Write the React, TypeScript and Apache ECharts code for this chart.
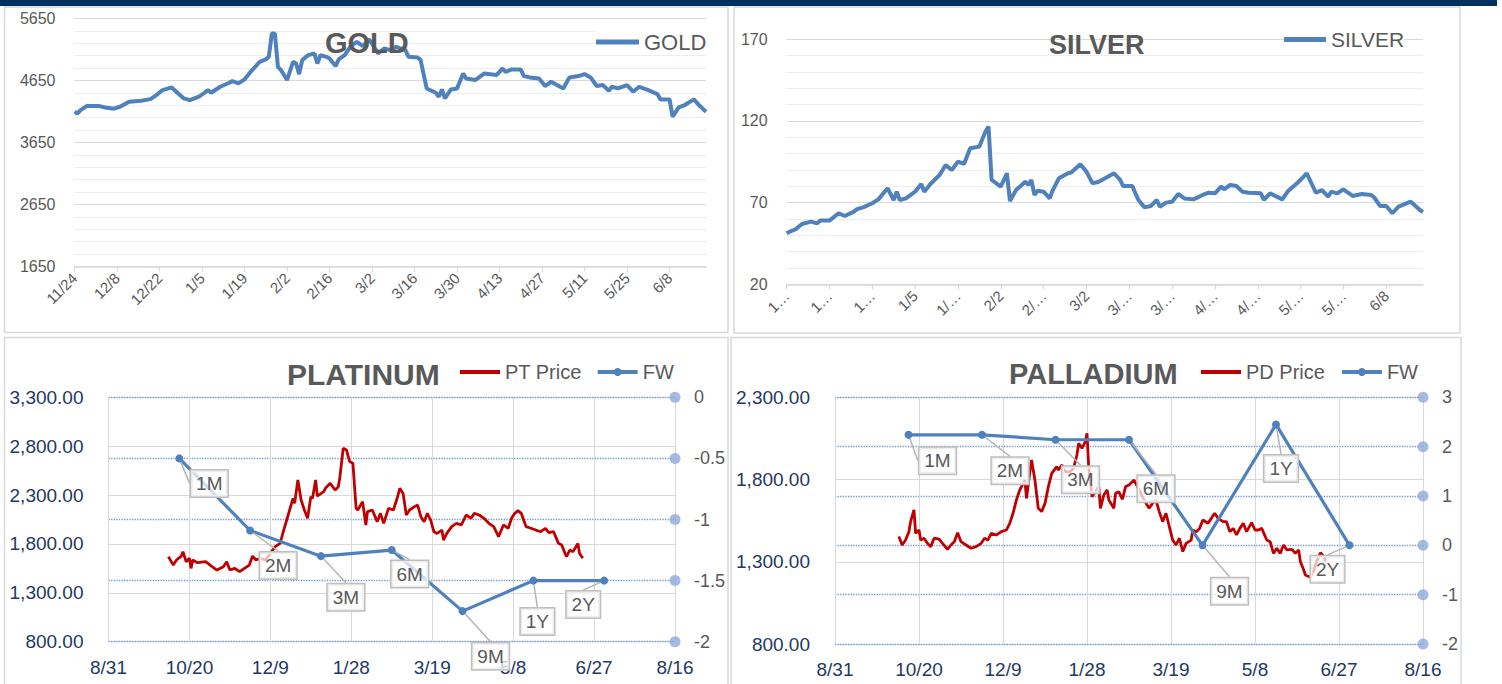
import React, { useEffect, useRef } from 'react';
import * as echarts from 'echarts';

// ---------------- DATA ----------------
const goldDates = ["11/24","11/25","11/26","11/28","12/2","12/4","12/7","12/9","12/12","12/16","12/19","12/21","12/23","12/26","12/30","1/1","1/4","1/7","1/8","1/11","1/14","1/15","1/17","1/19","1/21","1/24","1/26","1/27","1/28","1/29","1/30","1/31","2/2","2/4","2/5","2/6","2/7","2/9","2/11","2/12","2/13","2/15","2/16","2/18","2/19","2/21","2/23","2/25","2/27","3/1","3/2","3/4","3/6","3/8","3/10","3/13","3/14","3/17","3/18","3/20","3/23","3/24","3/25","3/26","3/28","3/30","4/1","4/2","4/5","4/8","4/12","4/14","4/15","4/17","4/20","4/21","4/23","4/26","4/28","4/30","5/4","5/6","5/9","5/11","5/13","5/15","5/17","5/19","5/20","5/22","5/25","5/27","5/29","6/1","6/4","6/5","6/8","6/9","6/11","6/13","6/16","6/18","6/20"];
const goldValues = [4146,4120,4173,4238,4238,4216,4195,4227,4307,4324,4350,4415,4495,4538,4361,4334,4388,4495,4452,4549,4614,4640,4603,4667,4790,4952,4989,5032,5408,5408,4871,4818,4657,4952,4925,4753,4979,5060,5086,4925,5060,5032,5006,4882,4989,5060,5204,5274,5204,5312,5247,5086,5167,5140,5194,5140,5032,5022,4979,4522,4452,4388,4506,4361,4506,4522,4764,4683,4657,4764,4737,4844,4790,4828,4828,4721,4700,4683,4560,4630,4522,4700,4721,4753,4700,4560,4576,4485,4549,4522,4576,4469,4549,4495,4431,4345,4345,4066,4216,4254,4345,4238,4146];

const silverDates = ["11/24","11/25","11/27","11/29","12/2","12/4","12/5","12/8","12/11","12/13","12/16","12/17","12/19","12/22","12/24","12/27","12/29","12/30","12/31","1/2","1/5","1/7","1/8","1/10","1/13","1/15","1/17","1/19","1/21","1/23","1/26","1/28","1/29","1/30","2/2","2/4","2/5","2/7","2/10","2/11","2/12","2/13","2/14","2/16","2/18","2/19","2/21","2/24","2/25","2/28","3/2","3/4","3/6","3/9","3/11","3/13","3/14","3/17","3/18","3/19","3/21","3/23","3/25","3/26","3/28","3/30","4/1","4/3","4/6","4/9","4/11","4/13","4/15","4/16","4/18","4/20","4/22","4/24","4/28","4/29","5/1","5/5","5/7","5/10","5/12","5/13","5/14","5/16","5/18","5/20","5/21","5/23","5/25","5/26","5/28","5/31","6/3","6/4","6/6","6/8","6/10","6/12","6/16","6/19","6/20"];
const silverValues = [51.2,52.2,53.7,56.9,58.4,57.3,59,59,63.5,61.8,64.5,66,67.1,69.6,72,78.8,71.6,76.7,71.6,72.6,76.7,81.4,76.7,81.4,86.9,93,90,95.1,93.7,103.3,104.3,113.5,116.5,83.9,79.8,88,71,77.7,82.8,80.8,83.9,74.7,77.3,76.7,72.6,77.7,84.9,88,88.4,93.5,89,81.8,82.8,85.9,88,83.9,80.2,80.2,75.7,71.6,67.1,67.9,71.6,67.5,70,70.6,75.3,72.6,72,74.7,76.1,75.7,79.8,78.2,80.8,80.2,76.7,76.1,75.7,71.6,75.7,72,77.3,82.2,85.9,88,83.9,76.1,77.7,73.7,76.7,75.7,78.2,76.7,74.1,75.3,74.7,73.3,67.9,67.9,63.5,67.5,70.6,65.5,64.3];

const ptDates = ["10/7","10/10","10/12","10/15","10/16","10/18","10/20","10/21","10/22","10/25","10/30","11/3","11/6","11/10","11/12","11/14","11/17","11/20","11/23","11/26","11/28","11/30","12/3","12/6","12/9","12/12","12/15","12/17","12/20","12/23","12/24","12/26","12/28","12/30","1/1","1/3","1/4","1/6","1/7","1/11","1/12","1/15","1/18","1/20","1/21","1/23","1/25","1/27","1/29","1/31","2/1","2/4","2/6","2/7","2/10","2/13","2/15","2/17","2/20","2/23","2/25","2/27","3/1","3/3","3/5","3/8","3/10","3/12","3/14","3/16","3/18","3/20","3/22","3/25","3/26","3/28","3/31","4/3","4/6","4/9","4/12","4/14","4/17","4/20","4/23","4/26","4/29","5/2","5/5","5/7","5/9","5/11","5/13","5/16","5/19","5/22","5/25","5/28","5/30","6/2","6/5","6/7","6/9","6/10","6/12","6/14","6/17","6/18","6/20"];
const ptValues = [1670,1584,1636,1676,1721,1618,1653,1550,1636,1608,1618,1567,1533,1567,1618,1533,1550,1516,1550,1584,1676,1636,1653,1636,1704,1772,1806,1925,2096,2266,2215,2454,2249,2147,2062,2283,2266,2454,2290,2335,2369,2420,2352,2386,2488,2778,2761,2642,2625,2164,2147,2232,1994,2130,2147,2028,2113,2011,2164,2147,2249,2369,2317,2096,2147,2181,2198,2079,2028,2113,2045,1925,1908,1942,1840,1908,1977,2011,1994,2096,2062,2113,2096,2062,2011,1977,1874,1994,1960,2062,2113,2140,2113,1977,1960,1942,1925,1960,1915,1925,1806,1789,1704,1670,1738,1721,1806,1704,1653];

const pdDates = ["10/8","10/10","10/12","10/14","10/15","10/17","10/18","10/20","10/21","10/23","10/25","10/27","10/29","11/1","11/3","11/6","11/8","11/10","11/12","11/14","11/17","11/20","11/23","11/26","11/28","11/30","12/2","12/5","12/8","12/11","12/13","12/15","12/17","12/19","12/22","12/23","12/25","12/26","12/28","12/30","1/1","1/3","1/5","1/7","1/10","1/11","1/13","1/15","1/18","1/20","1/22","1/23","1/25","1/27","1/28","1/29","1/31","2/2","2/4","2/5","2/7","2/9","2/10","2/13","2/14","2/16","2/18","2/20","2/22","2/25","2/27","3/1","3/3","3/6","3/8","3/10","3/12","3/14","3/16","3/18","3/20","3/22","3/24","3/26","3/28","3/31","4/1","4/3","4/5","4/7","4/10","4/12","4/14","4/16","4/19","4/21","4/23","4/25","4/27","4/29","5/1","5/3","5/6","5/8","5/10","5/12","5/15","5/17","5/19","5/21","5/23","5/25","5/27","5/30","6/1","6/3","6/4","6/6","6/7","6/10","6/12","6/14","6/16","6/18","6/19"];
const pdValues = [1453,1402,1432,1483,1544,1615,1473,1493,1432,1443,1412,1392,1443,1437,1412,1376,1402,1422,1477,1422,1402,1382,1392,1412,1443,1432,1473,1463,1483,1493,1534,1595,1676,1737,1797,1686,1848,1919,1797,1625,1605,1655,1757,1838,1878,1858,1889,1848,1848,1868,1949,2020,1990,2030,2081,1878,1696,1726,1757,1625,1706,1737,1676,1625,1716,1726,1680,1757,1767,1797,1757,1716,1676,1625,1655,1676,1605,1544,1595,1514,1432,1402,1443,1362,1412,1432,1493,1483,1503,1554,1534,1564,1595,1564,1544,1544,1483,1503,1463,1503,1534,1483,1538,1493,1493,1503,1432,1422,1351,1382,1351,1402,1372,1376,1351,1372,1301,1250,1220,1206,1250,1311,1355,1331,1301];

const tenors = ["1M", "2M", "3M", "6M", "9M", "1Y", "2Y"];
const ptFw = [-0.5, -1.09, -1.3, -1.25, -1.75, -1.5, -1.5];
const pdFw = [2.24, 2.24, 2.14, 2.14, 0, 2.45, 0];

// axis ticks / ranges
const goldYTicks = [1650, 2650, 3650, 4650, 5650];
const silverYTicks = [20, 70, 120, 170];
const spotXStart = "2025-11-24";
const spotXEnd = "2026-06-20";
const spotXStep = 14;
const fwXStart = "2025-08-31";
const fwXEnd = "2026-08-16";
const fwXStep = 50;
const ptLeftTicks = [800, 1300, 1800, 2300, 2800, 3300];
const ptRightTicks = [-2, -1.5, -1, -0.5, 0];
const pdLeftTicks = [800, 1300, 1800, 2300];
const pdRightTicks = [-2, -1, 0, 1, 2, 3];

// label placement offsets (styling)
const ptLabelOffsets = [[30, 25], [28, 35], [25, 41], [18, 24], [28, 45], [4, 41], [-21, 24]];
const pdLabelOffsets = [[29, 26], [28, 36], [25, 40], [27, 49], [27, 46], [5, 44], [-22, 24]];

// ---------------- HELPERS ----------------
const FONT = "'Liberation Sans', Arial, sans-serif";
const GRAY = '#595959';
const NAVY = '#1F3864';
const isoDay = (iso: string) => {
  const [y, m, d] = iso.split('-').map(Number);
  return Math.round(Date.UTC(y, m - 1, d) / 86400000);
};
// data dates are M/D in the Sep-2025 .. Aug-2026 window
const dayNum = (md: string) => {
  const [m, d] = md.split('/').map(Number);
  return Math.round(Date.UTC(m >= 9 ? 2025 : 2026, m - 1, d) / 86400000);
};
const mdOf = (n: number) => {
  const dt = new Date(n * 86400000);
  return dt.getUTCMonth() + 1 + '/' + dt.getUTCDate();
};
const truncLabel = (s: string) =>
  s.length <= 3 ? s : (s[1] === '/' ? s.slice(0, 2) : s.slice(0, 1)) + '…';

const spotOrigin = isoDay(spotXStart);
const spotMax = isoDay(spotXEnd) - spotOrigin;
const spotTicks: number[] = [];
for (let v = 0; v <= spotMax - spotXStep + 2; v += spotXStep) spotTicks.push(v);
const fwOrigin = isoDay(fwXStart);
const fwMax = isoDay(fwXEnd) - fwOrigin;

const toSeries = (dates: string[], vals: number[], origin: number) =>
  dates.map((d, i) => [dayNum(d) - origin, vals[i]]);

const gridLines = (ticks: number[]) => {
  const out: any[] = [];
  for (let i = 0; i < ticks.length - 1; i++) {
    const step = (ticks[i + 1] - ticks[i]) / 5;
    for (let k = 1; k < 5; k++)
      out.push({ yAxis: ticks[i] + step * k, lineStyle: { color: '#EDEDED', width: 1, type: 'solid' } });
  }
  ticks.forEach((t) => out.push({ yAxis: t, lineStyle: { color: '#D9D9D9', width: 1.2, type: 'solid' } }));
  return out;
};

const gridSeries = (idx: number, ticks: number[]) => ({
  type: 'line',
  name: '_grid' + idx,
  xAxisIndex: idx,
  yAxisIndex: idx,
  data: [],
  silent: true,
  z: 1,
  markLine: {
    z: 1,
    silent: true,
    symbol: ['none', 'none'],
    label: { show: false },
    animation: false,
    data: gridLines(ticks),
  },
});

const fmtThousands = (v: number) =>
  v.toLocaleString('en-US', { minimumFractionDigits: 2, maximumFractionDigits: 2 });

const fwSeries = (name: string, xi: number, yi: number, vals: number[], offsets: number[][]) => ({
  type: 'line',
  name,
  xAxisIndex: xi,
  yAxisIndex: yi,
  data: vals.map((v, i) => [i, v]),
  z: 5,
  symbol: 'circle',
  symbolSize: 8,
  color: '#4F81BD',
  lineStyle: { color: '#4F81BD', width: 3.2 },
  itemStyle: { color: '#4F81BD' },
  label: {
    show: true,
    position: 'inside',
    formatter: (p: any) => tenors[p.dataIndex],
    fontFamily: FONT,
    fontSize: 19,
    color: GRAY,
    backgroundColor: 'rgba(255,255,255,0.72)',
    borderColor: '#BFBFBF',
    borderWidth: 1.5,
    padding: [4, 5, 3, 5],
  },
  labelLine: { show: true, lineStyle: { color: '#B5B5B5', width: 1.5 } },
  labelLayout: (p: any) => {
    const o = offsets[p.dataIndex];
    return {
      x: p.rect.x + p.rect.width / 2 + o[0],
      y: p.rect.y + p.rect.height / 2 + o[1],
      align: 'center',
      verticalAlign: 'middle',
    };
  },
});

const dotSeries = (xi: number, yi: number, ticks: number[]) => ({
  type: 'scatter',
  name: '_dots' + yi,
  xAxisIndex: xi,
  yAxisIndex: yi,
  data: ticks.map((t) => [fwMax, t]),
  symbolSize: 11,
  clip: false,
  silent: true,
  z: 4,
  itemStyle: { color: '#8EAADB' },
});

const barIcon = (w: number, h: number) => `path://M0,0H${w}V${h}H0Z`;

function buildOption(): any {
  const spotXAxis = (gi: number, silver: boolean) => ({
    type: 'value',
    gridIndex: gi,
    min: 0,
    max: spotMax,
    interval: spotXStep,
    axisLine: { show: true, lineStyle: { color: '#D9D9D9', width: 1.5 } },
    axisTick: { show: true, length: 5, customValues: spotTicks, lineStyle: { color: '#D9D9D9', width: 1.2 } },
    axisLabel: {
      customValues: spotTicks,
      rotate: 45,
      margin: 9,
      fontFamily: FONT,
      fontSize: 15,
      color: GRAY,
      formatter: (v: number) => (silver ? truncLabel(mdOf(spotOrigin + v)) : mdOf(spotOrigin + v)),
    },
    splitLine: { show: false },
  });
  const spotYAxis = (gi: number, ticks: number[]) => ({
    type: 'value',
    gridIndex: gi,
    min: ticks[0],
    max: ticks[ticks.length - 1],
    axisLine: { show: false },
    axisTick: { show: false },
    splitLine: { show: false },
    axisLabel: {
      customValues: ticks,
      fontFamily: FONT,
      fontSize: 16,
      color: GRAY,
      margin: 19,
      formatter: (v: number) => String(v),
    },
  });
  const fwDateAxis = (gi: number) => ({
    type: 'value',
    gridIndex: gi,
    min: 0,
    max: fwMax,
    interval: fwXStep,
    axisLine: { show: false },
    axisTick: { show: false },
    splitLine: { show: true, lineStyle: { color: '#D9D9D9', width: 1 } },
    axisLabel: {
      fontFamily: FONT,
      fontSize: 19,
      color: NAVY,
      margin: 16,
      formatter: (v: number) => mdOf(fwOrigin + v),
    },
  });
  const tenorAxis = (gi: number) => ({
    type: 'value',
    gridIndex: gi,
    min: -1,
    max: tenors.length,
    show: false,
    splitLine: { show: false },
  });
  const leftAxis = (gi: number, ticks: number[]) => ({
    type: 'value',
    gridIndex: gi,
    position: 'left',
    min: ticks[0],
    max: ticks[ticks.length - 1],
    interval: ticks[1] - ticks[0],
    axisLine: { show: false },
    axisTick: { show: false },
    splitLine: { show: true, lineStyle: { color: '#D9D9D9', width: 1 } },
    axisLabel: { fontFamily: FONT, fontSize: 19, color: NAVY, margin: 25, formatter: fmtThousands },
  });
  const rightAxis = (gi: number, ticks: number[]) => ({
    type: 'value',
    gridIndex: gi,
    position: 'right',
    min: ticks[0],
    max: ticks[ticks.length - 1],
    interval: ticks[1] - ticks[0],
    axisLine: { show: false },
    axisTick: { show: false },
    splitLine: { show: true, lineStyle: { color: '#7097D0', width: 1.3, type: 'dotted' } },
    axisLabel: { fontFamily: FONT, fontSize: 18, color: GRAY, margin: 19 },
  });

  const titleStyle = (size: number) => ({ fontFamily: FONT, fontSize: size, fontWeight: 'bold', color: GRAY });
  const legendBase = (size: number, lw: number) => ({
    orient: 'horizontal',
    padding: 0,
    itemHeight: 10,
    z: 10,
    textStyle: { fontFamily: FONT, fontSize: size, color: GRAY },
    lineStyle: { width: lw },
  });

  return {
    animation: false,
    backgroundColor: '#ffffff',
    graphic: [
      { type: 'rect', shape: { x: 0, y: 0, width: 1497, height: 6 }, style: { fill: '#00305F' }, silent: true },
      { type: 'rect', shape: { x: 4.5, y: 7, width: 723.5, height: 325.5 }, style: { fill: 'none', stroke: '#D9D9D9', lineWidth: 1.5 }, silent: true },
      { type: 'rect', shape: { x: 734, y: 7, width: 726, height: 326 }, style: { fill: 'none', stroke: '#D9D9D9', lineWidth: 1.5 }, silent: true },
      { type: 'rect', shape: { x: 4.5, y: 337.5, width: 723.5, height: 360 }, style: { fill: 'none', stroke: '#D9D9D9', lineWidth: 1.5 }, silent: true },
      { type: 'rect', shape: { x: 731, y: 337.5, width: 730, height: 360 }, style: { fill: 'none', stroke: '#D9D9D9', lineWidth: 1.5 }, silent: true },
    ],
    title: [
      { text: 'GOLD', left: 325, top: 28, padding: 0, textStyle: titleStyle(29) },
      { text: 'SILVER', left: 1049, top: 31, padding: 0, textStyle: titleStyle(27) },
      { text: 'PLATINUM', left: 287, top: 359, padding: 0, textStyle: titleStyle(30) },
      { text: 'PALLADIUM', left: 1009, top: 359, padding: 0, textStyle: titleStyle(29) },
    ],
    legend: [
      {
        ...legendBase(22, 5), data: [{ name: 'GOLD', icon: barIcon(43, 5) }],
        left: 596, top: 31, itemWidth: 43, backgroundColor: '#ffffff',
      },
      {
        ...legendBase(21, 5), data: [{ name: 'SILVER', icon: barIcon(42, 5) }],
        left: 1284, top: 29, itemWidth: 42, backgroundColor: '#ffffff',
      },
      {
        ...legendBase(20, 4), data: [{ name: 'PT Price', icon: barIcon(40, 4) }, 'FW'],
        left: 460, top: 362, itemWidth: 40, itemGap: 14,
      },
      {
        ...legendBase(20, 4), data: [{ name: 'PD Price', icon: barIcon(40, 4) }, 'FW'],
        left: 1201, top: 362, itemWidth: 40, itemGap: 15,
      },
    ],
    grid: [
      { left: 74.5, right: 796, top: 18.5, bottom: 417.5 },
      { left: 786.6, right: 79, top: 39.3, bottom: 399.7 },
      { left: 108.5, right: 827, top: 397.3, bottom: 42.3 },
      { left: 835, right: 79, top: 397.3, bottom: 40 },
    ],
    xAxis: [
      spotXAxis(0, false),
      spotXAxis(1, true),
      fwDateAxis(2),
      tenorAxis(2),
      fwDateAxis(3),
      tenorAxis(3),
    ],
    yAxis: [
      spotYAxis(0, goldYTicks),
      spotYAxis(1, silverYTicks),
      leftAxis(2, ptLeftTicks),
      rightAxis(2, ptRightTicks),
      leftAxis(3, pdLeftTicks),
      rightAxis(3, pdRightTicks),
    ],
    series: [
      gridSeries(0, goldYTicks),
      {
        type: 'line', name: 'GOLD', xAxisIndex: 0, yAxisIndex: 0, z: 3,
        data: toSeries(goldDates, goldValues, spotOrigin),
        symbol: 'none', color: '#4F81BD', lineStyle: { color: '#4F81BD', width: 4 },
      },
      gridSeries(1, silverYTicks),
      {
        type: 'line', name: 'SILVER', xAxisIndex: 1, yAxisIndex: 1, z: 3,
        data: toSeries(silverDates, silverValues, spotOrigin),
        symbol: 'none', color: '#4F81BD', lineStyle: { color: '#4F81BD', width: 4 },
      },
      {
        type: 'line', name: 'PT Price', xAxisIndex: 2, yAxisIndex: 2, z: 3,
        data: toSeries(ptDates, ptValues, fwOrigin),
        symbol: 'none', color: '#C00000', lineStyle: { color: '#C00000', width: 2.8 },
      },
      fwSeries('FW', 3, 3, ptFw, ptLabelOffsets),
      dotSeries(2, 3, ptRightTicks),
      {
        type: 'line', name: 'PD Price', xAxisIndex: 4, yAxisIndex: 4, z: 3,
        data: toSeries(pdDates, pdValues, fwOrigin),
        symbol: 'none', color: '#C00000', lineStyle: { color: '#C00000', width: 2.8 },
      },
      fwSeries('FW', 5, 5, pdFw, pdLabelOffsets),
      dotSeries(4, 5, pdRightTicks),
    ],
  };
}

export default function App() {
  const ref = useRef<HTMLDivElement>(null);
  useEffect(() => {
    if (!ref.current) return;
    const chart = echarts.init(ref.current, undefined, { renderer: 'svg' });
    chart.setOption(buildOption());
    return () => chart.dispose();
  }, []);
  return (
    <div
      ref={ref}
      style={{ position: 'absolute', left: 0, top: 0, width: 1502, height: 684, background: '#fff' }}
    />
  );
}
